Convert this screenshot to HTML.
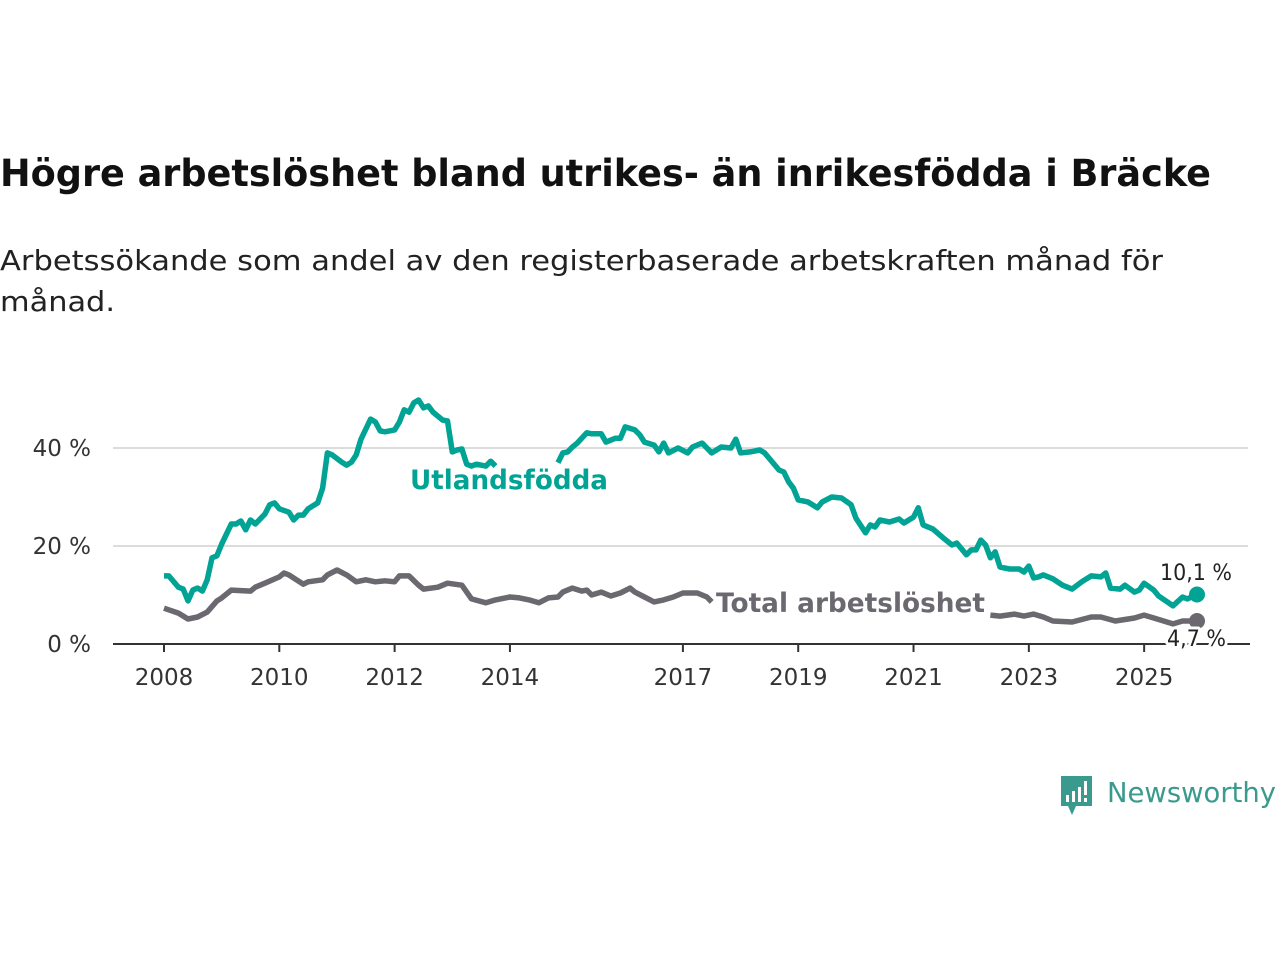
<!DOCTYPE html>
<html><head><meta charset="utf-8"><style>
html,body{margin:0;padding:0;background:#fff;width:1280px;height:960px;overflow:hidden}
svg{display:block;font-family:"DejaVu Sans","Liberation Sans",sans-serif}
</style></head><body>
<svg id="chart" width="1280" height="960" viewBox="0 0 1280 960">
<text x="0" y="186" font-size="37" font-weight="bold" fill="#111" textLength="1211" lengthAdjust="spacingAndGlyphs">Högre arbetslöshet bland utrikes- än inrikesfödda i Bräcke</text>
<text x="0" y="270" font-size="28" fill="#222" textLength="1163" lengthAdjust="spacingAndGlyphs">Arbetssökande som andel av den registerbaserade arbetskraften månad för</text>
<text x="0" y="311" font-size="28" fill="#222" textLength="115" lengthAdjust="spacingAndGlyphs">månad.</text>
<g id="grid"></g>
<g id="axes"></g>
<g id="series"></g>
<g id="labels"></g>
<g>
<path d="M1061 776 h31 v30 h-16 l-4 9 l-4 -9 h-7 z" fill="#3a9a8d"/>
<rect x="1066" y="795" width="3" height="7" fill="#fff"/><rect x="1072" y="791" width="3" height="11" fill="#fff"/><rect x="1078" y="787" width="3" height="15" fill="#fff"/><rect x="1084" y="781" width="3" height="14" fill="#fff"/><rect x="1084" y="798" width="3" height="4" fill="#fff"/>
<text x="1107" y="802" font-size="28" fill="#3a9a8d" textLength="169" lengthAdjust="spacingAndGlyphs">Newsworthy</text>
</g>
</svg>
<script>
// months since Jan 2008
const utlMonths=[0,1,3,4,5,6,7,8,9,10,11,12,14,15,16,17,18,19,21,22,23,24,26,27,28,29,30,31,32,33,34,35,37,38,39,40,41,43,44,45,46,48,49,50,51,52,53,54,55,56,58,59,60,61,62,63,64,65,67,68,69,null,82,83,84,85,86,88,89,91,92,94,95,96,98,99,100,102,103,104,105,107,109,110,112,114,116,118,119,120,122,124,125,128,129,130,131,132,134,136,137,139,141,143,144,146,147,148,149,151,153,154,156,157,158,160,162,164,165,167,168,169,170,171,172,173,174,176,178,179,180,181,182,183,185,187,189,191,193,195,196,197,199,200,202,203,204,206,207,210,212,213,215];
const utlValues=[13.9,13.9,11.6,11.2,8.8,11.0,11.4,10.8,13.1,17.6,18.0,20.4,24.5,24.5,25.1,23.3,25.3,24.5,26.5,28.4,28.8,27.6,26.9,25.3,26.3,26.3,27.6,28.2,28.8,31.8,39.0,38.6,37.1,36.5,37.1,38.6,41.8,45.9,45.3,43.5,43.3,43.7,45.3,47.8,47.3,49.2,49.8,48.2,48.6,47.3,45.7,45.5,39.2,39.6,39.8,36.7,36.3,36.7,36.3,37.3,36.3,null,37.0,39.0,39.2,40.2,41.0,43.1,42.9,42.9,41.2,42.0,42.0,44.3,43.7,42.7,41.2,40.6,39.2,41.0,39.0,40.0,39.0,40.2,41.0,39.0,40.2,40.0,41.8,39.0,39.2,39.6,39.0,35.5,35.1,33.1,31.8,29.4,29.0,27.8,29.0,30.0,29.8,28.4,25.7,22.7,24.3,23.9,25.3,24.9,25.5,24.7,25.9,27.8,24.3,23.5,21.8,20.2,20.6,18.2,19.2,19.2,21.2,20.2,17.6,18.8,15.7,15.3,15.3,14.7,15.9,13.5,13.7,14.1,13.3,12.0,11.2,12.7,13.9,13.7,14.5,11.4,11.2,12.0,10.6,11.0,12.4,11.0,9.8,7.8,9.6,9.2,10.1];
const totMonths=[0,3,5,7,9,11,12,14,18,19,21,24,25,26,29,30,33,34,36,38,40,42,44,46,48,49,51,53,54,57,59,62,64,67,69,72,74,76,78,80,82,83,85,87,88,89,91,93,95,97,98,100,102,104,106,108,111,113,114,null,172,174,177,179,181,183,185,189,193,195,198,202,204,206,210,212,215];
const totValues=[7.3,6.3,5.1,5.5,6.5,8.8,9.4,11.0,10.8,11.6,12.4,13.7,14.5,14.1,12.2,12.7,13.1,14.1,15.1,14.1,12.7,13.1,12.7,12.9,12.7,13.9,13.9,12.0,11.2,11.6,12.4,12.0,9.2,8.4,9.0,9.6,9.4,9.0,8.4,9.4,9.6,10.6,11.4,10.8,11.0,10.0,10.6,9.8,10.4,11.4,10.6,9.6,8.6,9.0,9.6,10.4,10.4,9.6,8.6,null,5.9,5.7,6.1,5.7,6.1,5.5,4.7,4.5,5.5,5.5,4.7,5.3,5.9,5.3,4.1,4.7,4.7];
const yTicks=[0,20,40];
const yTickLabels=["0 %","20 %","40 %"];
const xTickYears=[2008,2010,2012,2014,2017,2019,2021,2023,2025];
const NS="http://www.w3.org/2000/svg";
const X=m=>164+m*(1197-164)/215;
const Y=v=>644-v*4.9;
const XY=y=>X((y-2008)*12);
function mk(tag,attrs,parent){const e=document.createElementNS(NS,tag);for(const k in attrs)e.setAttribute(k,attrs[k]);parent.appendChild(e);return e;}
const grid=document.getElementById('grid'),axes=document.getElementById('axes'),series=document.getElementById('series'),labels=document.getElementById('labels');
yTicks.forEach((t,i)=>{
  if(t>0){const l=mk('line',{x1:113,x2:1248,y1:Y(t),y2:Y(t),stroke:'#dcdcdc','stroke-width':2},grid);
  
  }
  const tx=mk('text',{x:91,y:Y(t)+8,'text-anchor':'end','font-size':23,fill:'#333'},axes);
  
  
  tx.textContent=yTickLabels[i];
});
const base=mk('line',{x1:113,x2:1250,y1:644,y2:644,stroke:'#333','stroke-width':2},axes);


xTickYears.forEach(yr=>{
  const tk=mk('line',{x1:XY(yr),x2:XY(yr),y1:644,y2:652,stroke:'#333','stroke-width':2},axes);
  
  
  const tx=mk('text',{x:XY(yr),y:685,'text-anchor':'middle','font-size':23,fill:'#333'},axes);
  
  
  tx.textContent=yr;
});
function pathOf(ms,vs){let d='',pen=false;for(let i=0;i<ms.length;i++){if(ms[i]===null||vs[i]===null){pen=false;continue;}d+=(pen?'L':'M')+X(ms[i]).toFixed(1)+' '+Y(vs[i]).toFixed(1);pen=true;}return d;}
const pt=mk('path',{d:pathOf(totMonths,totValues),fill:'none',stroke:'#6b6870','stroke-width':5.5,'stroke-linejoin':'round'},series);


const pu=mk('path',{d:pathOf(utlMonths,utlValues),fill:'none',stroke:'#00a394','stroke-width':5.5,'stroke-linejoin':'round'},series);


const lu=utlValues.length-1,lt=totValues.length-1;
const du=mk('circle',{cx:X(utlMonths[lu]),cy:Y(utlValues[lu]),r:8,fill:'#00a394'},series);


const dt=mk('circle',{cx:X(totMonths[lt]),cy:Y(totValues[lt]),r:8,fill:'#6b6870'},series);


function lbl(txt,x,y,size,color,bold,len){const t=mk('text',{x:x,y:y,'font-size':size,fill:color,'font-weight':bold?'bold':'normal',stroke:'#fff','stroke-width':6,'paint-order':'stroke','stroke-linejoin':'round',textLength:len,lengthAdjust:'spacingAndGlyphs'},labels);t.textContent=txt;return t;}
let a=lbl('Utlandsfödda',410,489,27,'#00a394',true,198);


a=lbl('Total arbetslöshet',716,612,27,'#6b6870',true,269);


a=lbl(String(utlValues[lu]).replace('.',',')+' %',1160,580,22,'#222',false,72);


a=lbl(String(totValues[lt]).replace('.',',')+' %',1167,646,22,'#222',false,59);


</script>
</body></html>
